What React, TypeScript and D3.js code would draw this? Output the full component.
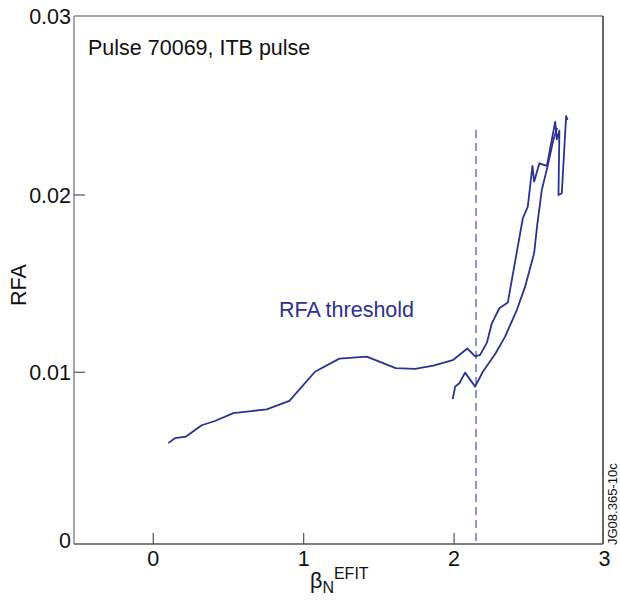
import React from "react";
import * as d3 from "d3";

// Upper branch (beta_N, RFA)
const upperBeta = [0.100, 0.144, 0.218, 0.322, 0.410, 0.532, 0.754, 0.905, 1.075, 1.237, 1.419, 1.612, 1.741, 1.862, 1.991, 2.088, 2.140, 2.173, 2.218, 2.251, 2.301, 2.357, 2.457, 2.490, 2.521, 2.532, 2.567, 2.617, 2.672, 2.683, 2.700, 2.694, 2.716, 2.745, 2.754];
const upperRFA = [0.00600, 0.00628, 0.00637, 0.00701, 0.00725, 0.00769, 0.00791, 0.00838, 0.01003, 0.01077, 0.01088, 0.01023, 0.01019, 0.01037, 0.01068, 0.01134, 0.01089, 0.01098, 0.01167, 0.01276, 0.01361, 0.01393, 0.01869, 0.01934, 0.02164, 0.02075, 0.02179, 0.02164, 0.02413, 0.02314, 0.02363, 0.02000, 0.02010, 0.02446, 0.02423];

// Lower branch
const lowerBeta = [1.991, 2.007, 2.035, 2.073, 2.140, 2.191, 2.273, 2.339, 2.417, 2.472, 2.532, 2.554, 2.583, 2.621, 2.660, 2.685];
const lowerRFA = [0.00848, 0.00919, 0.00938, 0.00998, 0.00919, 0.01003, 0.01103, 0.01201, 0.01351, 0.01483, 0.01671, 0.01840, 0.02028, 0.02160, 0.02310, 0.02378];

const thresholdBeta = 2.146;
const thresholdTop = 0.02367;

const xTicks = [0, 1, 2, 3];
const xTickLabels = ["0", "1", "2", "3"];
const yTicks = [0, 0.01, 0.02, 0.03];
const yTickLabels = ["0", "0.01", "0.02", "0.03"];

const FONT = "'Liberation Sans', Arial, Helvetica, sans-serif";
const LINE = "#2b3391";
const FS = 21.5;

export default function App() {
  const W = 620, H = 606;
  const left = 74, right = 603, top = 16, bottom = 544;
  const x = d3.scaleLinear().domain([-0.527, 2.99]).range([left, right]);
  const y = d3.scaleLinear().domain([0.00031, 0.0301]).range([bottom, top]);

  const line = d3.line<[number, number]>().x(d => x(d[0])).y(d => y(d[1]));
  const upper = line(upperBeta.map((b, i) => [b, upperRFA[i]] as [number, number]));
  const lower = line(lowerBeta.map((b, i) => [b, lowerRFA[i]] as [number, number]));

  return (
    <svg width={W} height={H} style={{ position: "absolute", left: 0, top: 0, background: "#fff" }} fontFamily={FONT}>
      <rect x={0} y={0} width={W} height={H} fill="#fff" />
      {/* frame */}
      <line x1={left} y1={top} x2={right} y2={top} stroke="#8a8a8a" strokeWidth={1.5} />
      <line x1={left} y1={top} x2={left} y2={bottom} stroke="#8a8a8a" strokeWidth={1.5} />
      <line x1={right} y1={top} x2={right} y2={bottom} stroke="#333" strokeWidth={1.5} />
      <line x1={left} y1={bottom} x2={right} y2={bottom} stroke="#555" strokeWidth={1.5} />

      {/* x ticks */}
      {xTicks.map((t, i) => (
        <g key={"xt" + i}>
          {t < 3 ? <line x1={x(t)} x2={x(t)} y1={bottom} y2={bottom - 11} stroke="#555" strokeWidth={1.2} /> : null}
          <text x={x(t)} y={566} textAnchor="middle" fontSize={FS} fill="#111">{xTickLabels[i]}</text>
        </g>
      ))}
      {/* y ticks */}
      {yTicks.map((t, i) => (
        <g key={"yt" + i}>
          {t > 0 && t < 0.03 ? <line x1={left} x2={left + 11} y1={y(t)} y2={y(t)} stroke="#555" strokeWidth={1.2} /> : null}
          <text x={71} y={t === 0 ? bottom + 4 : t === 0.03 ? top + 8 : y(t) + 7.5} textAnchor="end" fontSize={FS} fill="#111">{yTickLabels[i]}</text>
        </g>
      ))}

      {/* threshold */}
      <line x1={x(thresholdBeta)} x2={x(thresholdBeta)} y1={y(thresholdTop)} y2={bottom} stroke="#6a72bd" strokeWidth={1.5} strokeDasharray="8,5" />

      <path d={upper || ""} fill="none" stroke={LINE} strokeWidth={1.8} strokeLinejoin="round" />
      <path d={lower || ""} fill="none" stroke={LINE} strokeWidth={1.8} strokeLinejoin="round" />

      <text x={88} y={55} fontSize={FS} fill="#111">Pulse 70069, ITB pulse</text>
      <text x={279} y={317} fontSize={FS} fill="#2e3192">RFA threshold</text>

      <text transform="translate(26,285) rotate(-90)" textAnchor="middle" fontSize={FS} fill="#111">RFA</text>

      <text x={310} y={588} fontSize={FS} fill="#111">β<tspan fontSize={16} dy={5}>N</tspan><tspan fontSize={16} dy={-14}>EFIT</tspan></text>

      <text transform="translate(617,545) rotate(-90)" fontSize={13} fill="#111">JG08.365-10c</text>
    </svg>
  );
}
